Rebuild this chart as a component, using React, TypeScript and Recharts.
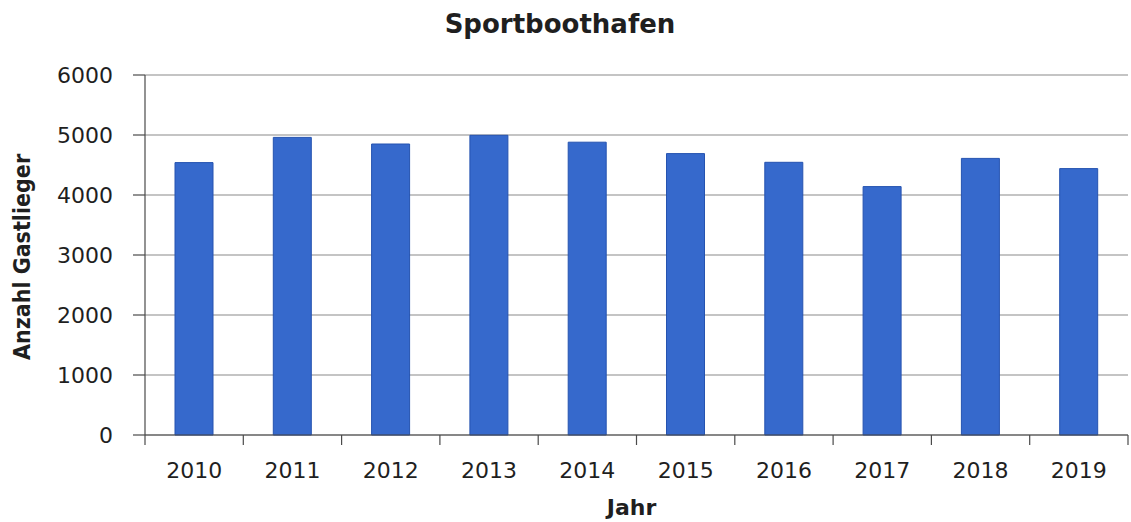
import React from 'react';
import { BarChart, Bar, XAxis, YAxis, CartesianGrid, Label } from 'recharts';

const years = ['2010', '2011', '2012', '2013', '2014', '2015', '2016', '2017', '2018', '2019'];
const guests = [4540, 4960, 4850, 4995, 4880, 4690, 4545, 4140, 4610, 4440];
const yTicks = [0, 1000, 2000, 3000, 4000, 5000, 6000];

const data = years.map((year, i) => ({ year, guests: guests[i] }));

const AXIS = '#4a4a4a';
const TEXT = '#1f1f1f';
const TICK_FONT = "'DejaVu Sans', Verdana, sans-serif";

// x ticks: label at category centre, tick marks on the category boundaries
const YearTick = (props: any) => {
  const { x, y, payload, index } = props;
  const half = payload?.offset ?? 49.15;
  return (
    <g>
      <line x1={x - half} y1={y - 10} x2={x - half} y2={y} stroke={AXIS} strokeWidth={1.2} />
      {index === years.length - 1 && (
        <line x1={x + half} y1={y - 10} x2={x + half} y2={y} stroke={AXIS} strokeWidth={1.2} />
      )}
      <text x={x} y={y + 33} textAnchor="middle" fill={TEXT} fontSize={22} fontFamily={TICK_FONT}>
        {payload.value}
      </text>
    </g>
  );
};

export default function App() {
  return (
    <div style={{ position: 'relative', width: 1131, height: 522, overflow: 'hidden', background: '#fff' }}>
      <style>{'html, body { margin: 0; padding: 0; overflow: hidden; }'}</style>
      <div
        style={{
          position: 'absolute',
          left: 0,
          top: 9,
          width: 1120,
          textAlign: 'center',
          fontFamily: TICK_FONT,
          fontWeight: 'bold',
          fontSize: 26,
          color: TEXT,
        }}
      >
        Sportboothafen
      </div>
      <BarChart
        width={1131}
        height={522}
        data={data}
        margin={{ top: 75, right: 3, bottom: 0, left: 0 }}
        barSize={38}
      >
        <CartesianGrid vertical={false} stroke="#8a8a8a" strokeWidth={1.2} />
        <XAxis
          dataKey="year"
          stroke={AXIS}
          strokeWidth={1.2}
          tickLine={false}
          tickSize={10}
          tickMargin={0}
          height={87}
          interval={0}
          tick={<YearTick />}
        >
          <Label
            content={({ viewBox }: any) => (
              <text
                x={viewBox.x + viewBox.width / 2 - 5}
                y={515}
                textAnchor="middle"
                fill={TEXT}
                fontSize={22}
                fontWeight="bold"
                fontFamily={TICK_FONT}
              >
                Jahr
              </text>
            )}
          />
        </XAxis>
        <YAxis
          width={145}
          domain={[0, 6000]}
          ticks={yTicks}
          interval={0}
          stroke={AXIS}
          strokeWidth={1.2}
          tickSize={12}
          tickMargin={20}
          tick={{ fill: TEXT, fontSize: 22, fontFamily: TICK_FONT }}
        >
          <Label
            content={({ viewBox }: any) => {
              const cy = viewBox.y + viewBox.height / 2 + 2;
              return (
                <text
                  x={30}
                  y={cy}
                  transform={`rotate(-90, 30, ${cy})`}
                  textAnchor="middle"
                  fill={TEXT}
                  fontSize={23}
                  fontWeight="bold"
                  fontFamily="'DejaVu Sans Condensed', sans-serif"
                >
                  Anzahl Gastlieger
                </text>
              );
            }}
          />
        </YAxis>
        <Bar dataKey="guests" fill="#3669cc" stroke="#2553b0" strokeWidth={1} isAnimationActive={false} />
      </BarChart>
    </div>
  );
}
